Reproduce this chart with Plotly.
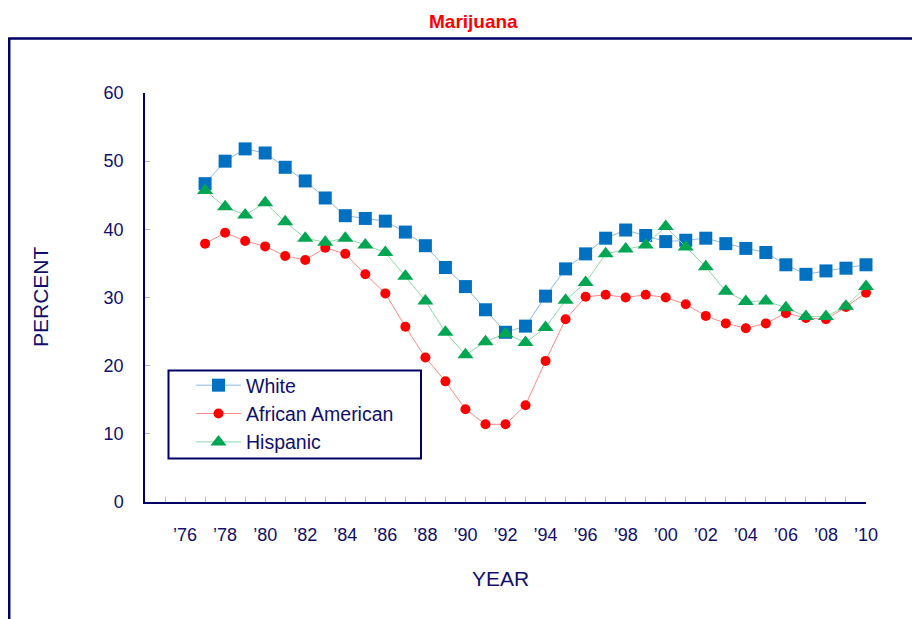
import plotly.graph_objects as go

years = list(range(1977, 2011))
white = [46.7, 50.0, 51.8, 51.2, 49.1, 47.1, 44.6, 42.0, 41.6, 41.2, 39.6, 37.6, 34.4, 31.6, 28.2, 24.9, 25.8,
         30.2, 34.2, 36.4, 38.7, 39.9, 39.1, 38.2, 38.4, 38.7, 37.9, 37.2, 36.6, 34.8, 33.4, 33.9, 34.3, 34.8]
african_american = [37.9, 39.5, 38.3, 37.5, 36.1, 35.5, 37.3, 36.4, 33.4, 30.6, 25.7, 21.2, 17.7, 13.6, 11.4, 11.4, 14.2,
                    20.7, 26.8, 30.1, 30.4, 30.0, 30.4, 30.0, 29.0, 27.3, 26.2, 25.5, 26.2, 27.7, 27.0, 26.8, 28.6, 30.7]
hispanic = [45.7, 43.3, 42.1, 43.9, 41.1, 38.7, 38.1, 38.7, 37.7, 36.6, 33.1, 29.5, 24.9, 21.6, 23.5, 24.7, 23.4,
            25.6, 29.6, 32.2, 36.4, 37.1, 37.7, 40.4, 37.4, 34.5, 30.9, 29.4, 29.5, 28.5, 27.2, 27.2, 28.7, 31.6]

tick_years = list(range(1975, 2011))
tick_text = ["\u2019%02d" % (y % 100) if y % 2 == 0 else "" for y in tick_years]
y_ticks = [0, 10, 20, 30, 40, 50, 60]

NAVY = "#000066"
TXT = "#10106A"
FONT = "Liberation Sans, Arial, sans-serif"

fig = go.Figure()
series = [
    ("White", white, "#0070C0", "#8DB9E2", "square", 13),
    ("African American", african_american, "#FF0000", "#FF8A8A", "circle", 10),
    ("Hispanic", hispanic, "#00A651", "#8ED9A9", "triangle-up", 14),
]
for i, (name, vals, mc, lc, sym, sz) in enumerate(series):
    fig.add_trace(go.Scatter(
        x=years, y=vals, name=name, mode="lines+markers",
        line=dict(color=lc, width=1),
        marker=dict(color=mc, symbol=sym, size=sz, line=dict(width=0)),
        cliponaxis=False, legendgroup=str(i),
    ))

# page has an 8px body margin; figure is placed at (8, 8)
OFF = 8
W, H = 920 - OFF, 619 - OFF
L, R, T, B = 145, 866, 93, 502   # plot area in page pixels
def px(xp):
    return (xp - L) / (R - L)
def py(yp):
    return (B - yp) / (B - T)

fig.update_layout(
    width=W, height=H,
    margin=dict(l=L - OFF, r=W - (R - OFF), t=T - OFF, b=H - (B - OFF)),
    paper_bgcolor="white", plot_bgcolor="white",
    font=dict(family=FONT, color=TXT, size=18),
    showlegend=True,
    legend=dict(x=px(191), y=py(366), xanchor="left", yanchor="top",
                bgcolor="rgba(0,0,0,0)", borderwidth=0,
                font=dict(size=19.5, color=TXT, family=FONT),
                itemwidth=45, tracegroupgap=0),
    xaxis=dict(range=[1974, 2010], tickmode="array", tickvals=tick_years, ticktext=tick_text,
               ticks="inside", ticklen=5, tickcolor="#B8B8D8", tickwidth=1,
               showline=True, linecolor=NAVY, linewidth=1.5, showgrid=False, zeroline=False,
               ticklabelstandoff=16, tickfont=dict(size=18, color=TXT)),
    yaxis=dict(range=[0, 60], tickmode="array", tickvals=y_ticks,
               ticks="inside", ticklen=5, tickcolor="#B8B8D8", tickwidth=1,
               showline=True, linecolor=NAVY, linewidth=1.5, showgrid=False, zeroline=False,
               ticklabelstandoff=16, tickfont=dict(size=18, color=TXT)),
    shapes=[
        dict(type="rect", xref="paper", yref="paper", x0=px(9.2), x1=px(930), y0=py(640), y1=py(38.5),
             line=dict(color=NAVY, width=2.5), fillcolor="rgba(0,0,0,0)", layer="above"),
        dict(type="rect", xref="paper", yref="paper", x0=px(168.5), x1=px(421), y0=py(458.5), y1=py(370.5),
             line=dict(color=NAVY, width=2), fillcolor="rgba(0,0,0,0)", layer="above"),
    ],
    annotations=[
        dict(text="<b>Marijuana</b>", xref="paper", yref="paper", x=px(473), y=py(8.5),
             showarrow=False, xanchor="center", yanchor="top",
             font=dict(size=19, color="#FF0000", family=FONT)),
        dict(text="YEAR", xref="paper", yref="paper", x=px(500), y=py(578),
             showarrow=False, xanchor="center", yanchor="middle",
             font=dict(size=21, color=TXT, family=FONT)),
        dict(text="PERCENT", xref="paper", yref="paper", x=px(40), y=py(297), textangle=-90,
             showarrow=False, xanchor="center", yanchor="middle",
             font=dict(size=21, color=TXT, family=FONT)),
    ],
)

fig.write_html("out.html")
